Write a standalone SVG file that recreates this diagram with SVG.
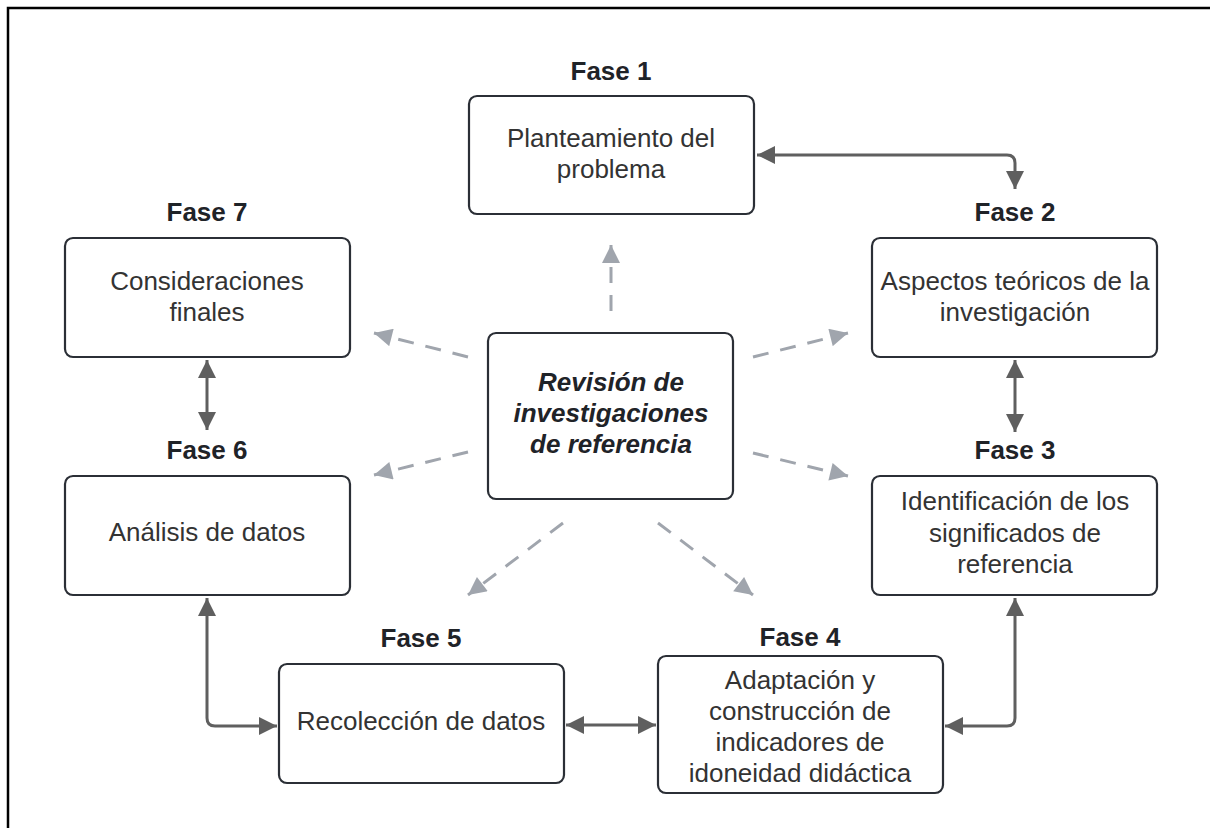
<svg xmlns="http://www.w3.org/2000/svg" width="1210" height="828" viewBox="0 0 1210 828">
<style>
.box{fill:#fff;stroke:#2b2f36;stroke-width:2.2}
.t{font-family:"Liberation Sans",Arial,sans-serif;font-size:26px;fill:#333;text-anchor:middle}
.h{font-family:"Liberation Sans",Arial,sans-serif;font-size:26px;font-weight:bold;fill:#1f2328;text-anchor:middle}
.c{font-family:"Liberation Sans",Arial,sans-serif;font-size:26px;font-weight:bold;font-style:italic;fill:#1f2328;text-anchor:middle}
.sol{fill:none;stroke:#5f5f5f;stroke-width:3}
.dash{fill:none;stroke:#a0a5ad;stroke-width:3;stroke-dasharray:16 12}
</style>
<defs>
<marker id="a" viewBox="0 0 10 10" refX="10" refY="5" markerWidth="7" markerHeight="6" markerUnits="strokeWidth" orient="auto-start-reverse"><path d="M0,0 L10,5 L0,10 z" fill="#5f5f5f"/></marker>
<marker id="d" viewBox="0 0 10 10" refX="10" refY="5" markerWidth="7" markerHeight="6" markerUnits="strokeWidth" orient="auto"><path d="M0,0 L10,5 L0,10 z" fill="#a0a5ad"/></marker>
</defs>
<rect x="0" y="0" width="1210" height="828" fill="#fff"/>
<rect x="8" y="8" width="1240" height="860" fill="none" stroke="#000" stroke-width="2.5"/>

<g id="connectors">
<path class="sol" d="M757,155 H1007 Q1015,155 1015,163 V189" marker-start="url(#a)" marker-end="url(#a)"/>
<path class="sol" d="M1015,360 V432" marker-start="url(#a)" marker-end="url(#a)"/>
<path class="sol" d="M207,360 V430" marker-start="url(#a)" marker-end="url(#a)"/>
<path class="sol" d="M207,598 V718 Q207,726 215,726 H277" marker-start="url(#a)" marker-end="url(#a)"/>
<path class="sol" d="M566,725 H656" marker-start="url(#a)" marker-end="url(#a)"/>
<path class="sol" d="M945,726 H1007 Q1015,726 1015,718 V598" marker-start="url(#a)" marker-end="url(#a)"/>
<path class="dash" d="M611,311 V245" marker-end="url(#d)"/>
<path class="dash" d="M468,357 L374,333" marker-end="url(#d)"/>
<path class="dash" d="M468,452 L374,475" marker-end="url(#d)"/>
<path class="dash" d="M753,357 L848,333" marker-end="url(#d)"/>
<path class="dash" d="M753,453 L848,476" marker-end="url(#d)"/>
<path class="dash" d="M563,523 L468,595" marker-end="url(#d)"/>
<path class="dash" d="M658,523 L753,595" marker-end="url(#d)"/>
</g>

<g id="center">
<rect class="box" x="488" y="333" width="245" height="166" rx="8"/>
<text class="c" x="611" y="391">Revisión de</text>
<text class="c" x="611" y="422">investigaciones</text>
<text class="c" x="611" y="453">de referencia</text>
</g>

<g id="fase1">
<text class="h" x="611" y="80">Fase 1</text>
<rect class="box" x="469" y="96" width="285" height="118" rx="8"/>
<text class="t" x="611" y="147">Planteamiento del</text>
<text class="t" x="611" y="178">problema</text>
</g>

<g id="fase2">
<text class="h" x="1015" y="221">Fase 2</text>
<rect class="box" x="872" y="238" width="285" height="119" rx="8"/>
<text class="t" x="1015" y="290">Aspectos teóricos de la</text>
<text class="t" x="1015" y="321">investigación</text>
</g>

<g id="fase3">
<text class="h" x="1015" y="459">Fase 3</text>
<rect class="box" x="872" y="476" width="285" height="119" rx="8"/>
<text class="t" x="1015" y="510">Identificación de los</text>
<text class="t" x="1015" y="542">significados de</text>
<text class="t" x="1015" y="573">referencia</text>
</g>

<g id="fase4">
<text class="h" x="800" y="646">Fase 4</text>
<rect class="box" x="658" y="656" width="285" height="137" rx="8"/>
<text class="t" x="800" y="689">Adaptación y</text>
<text class="t" x="800" y="720">construcción de</text>
<text class="t" x="800" y="751">indicadores de</text>
<text class="t" x="800" y="782">idoneidad didáctica</text>
</g>

<g id="fase5">
<text class="h" x="421" y="647">Fase 5</text>
<rect class="box" x="279" y="664" width="285" height="119" rx="8"/>
<text class="t" x="421" y="730">Recolección de datos</text>
</g>

<g id="fase6">
<text class="h" x="207" y="459">Fase 6</text>
<rect class="box" x="65" y="476" width="285" height="119" rx="8"/>
<text class="t" x="207" y="541">Análisis de datos</text>
</g>

<g id="fase7">
<text class="h" x="207" y="221">Fase 7</text>
<rect class="box" x="65" y="238" width="285" height="119" rx="8"/>
<text class="t" x="207" y="290">Consideraciones</text>
<text class="t" x="207" y="321">finales</text>
</g>
</svg>
